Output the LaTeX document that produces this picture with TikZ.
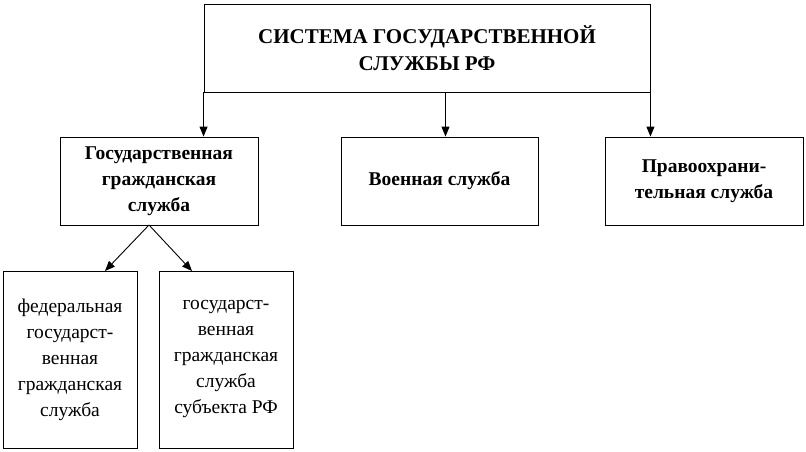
\documentclass[tikz,border=0pt]{standalone}
\usepackage{fontspec}
\setmainfont{Liberation Serif}
\usetikzlibrary{arrows.meta}
\begin{document}
\begin{tikzpicture}[x=1pt,y=-1pt,
  box/.style={draw,line width=0.9pt,inner sep=0pt,align=center},
  arr/.style={-{Triangle[length=10pt,width=8pt]},line width=0.9pt}]
\useasboundingbox (0,0) rectangle (806,452);
\node[box,minimum width=446pt,minimum height=88pt,font=\fontsize{21}{27}\selectfont\bfseries] (top) at (427,48) {СИСТЕМА ГОСУДАРСТВЕННОЙ\\СЛУЖБЫ РФ};
\node[box,minimum width=198pt,minimum height=88pt,font=\fontsize{19.5}{26}\selectfont\bfseries] (g) at (159,181) {Государственная\\гражданская\\служба};
\node[box,minimum width=197pt,minimum height=88pt,font=\fontsize{19.5}{26}\selectfont\bfseries] (v) at (439.5,181) {Военная служба};
\node[box,minimum width=198pt,minimum height=88pt,font=\fontsize{19.5}{26}\selectfont\bfseries] (p) at (704,181) {Правоохрани-\\тельная служба};
\node[box,minimum width=134pt,minimum height=177pt,font=\fontsize{19.5}{26}\selectfont] (f) at (70,359.5) {федеральная\\государст-\\венная\\гражданская\\служба};
\node[box,minimum width=134pt,minimum height=177pt,font=\fontsize{19.5}{26}\selectfont] (s) at (226,359.5) {государст-\\венная\\гражданская\\служба\\субъекта РФ};
\draw[arr] (top.south west) -- (top.south west |- g.north);
\draw[arr] (top.south -| v.north) ++(6,0) -- ([xshift=6pt]v.north);
\draw[arr] (top.south east) -- (top.south east |- p.north);
\coordinate (gb) at (149,225);
\draw[arr] (gb) -- (105,271);
\draw[arr] (gb) -- (192,271);
\end{tikzpicture}
\end{document}
